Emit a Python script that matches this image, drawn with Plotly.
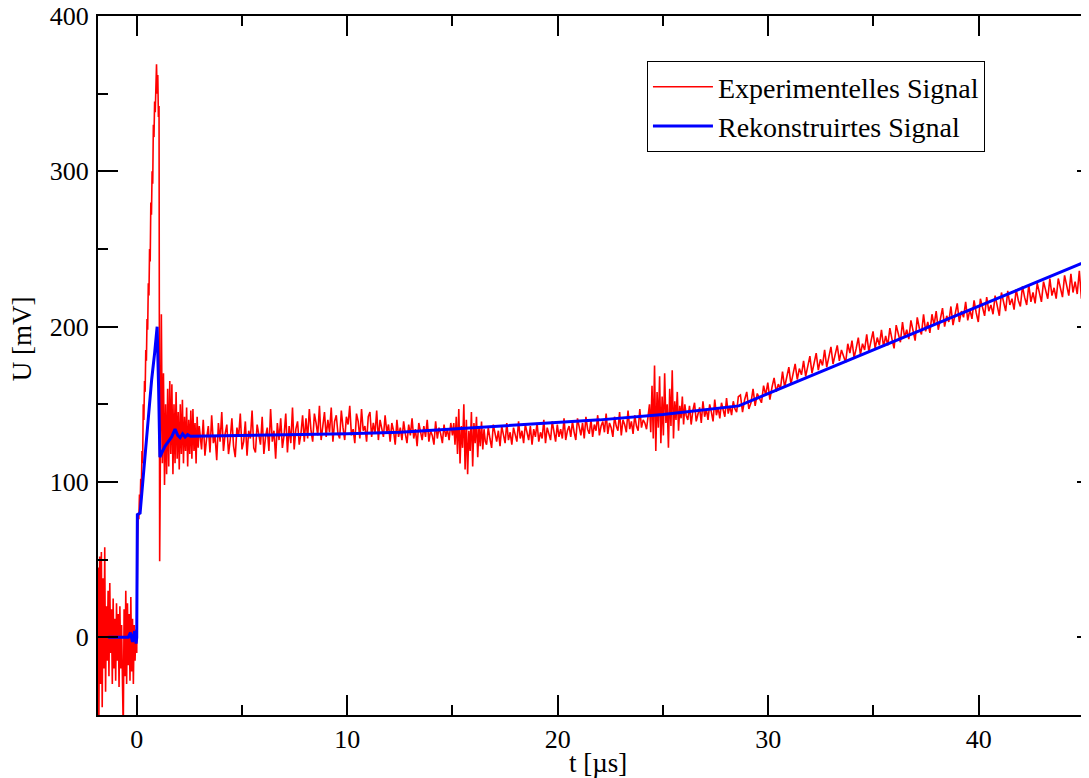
import plotly.graph_objects as go

# ---------------- experimental signal (segments: start time [µs], sample step [µs], values [mV]) ----------
pre_t0, pre_dt = -1.84, 0.04
pre_u = [45, -60, 52, -30, 55, -45, 38, -20, 58, -35, 20, -15, 30, -25, 35, -10, 18, -30, 25, -20,
         12, -28, 22, -15, 15, -32, 20, -20, 8, -40, -60, 18, -25, 30, -30, 22, -18, 15, -28, 26,
         -22, 12, -30, 8, -15, 5, -10]

rise_t0, rise_dt = 0.04, 0.03
rise_u = [62, 80, 76, 92, 84, 102, 96, 120, 112, 150, 140, 165, 158, 185, 178, 205, 198, 228, 220, 250,
          242, 280, 272, 300, 292, 330, 322, 345, 338, 360, 369, 350, 362, 335, 342, 49]

ring_t0, ring_dt = 1.12, 0.05
ring_u = [130, 208, 112, 170, 98, 150, 105, 160, 110, 165, 118, 163, 105, 150, 112, 158, 115, 145, 108, 150,
          118, 153, 112, 142, 120, 148, 110, 140, 118, 146, 115, 147, 120, 138, 112, 142, 122, 136]

flat1_t0, flat1_dt = 3.0, 0.08
flat1_u = [132, 121, 140, 117, 128, 136, 119, 143, 125, 130,
           114, 138, 126, 145, 120, 131, 137, 118, 127, 141,
           123, 116, 135, 129, 144, 121, 126, 139, 117, 133,
           128, 146, 122, 119, 137, 131, 124, 142, 118, 129,
           135, 120, 147, 126, 133, 115, 138, 127, 141, 122,
           130, 144, 119, 136, 125, 148, 121, 134, 139, 124,
           131, 143, 126]

flat2_t0, flat2_dt = 8.04, 0.08
flat2_u = [141, 128, 147, 133, 126, 144, 138, 130, 149, 127,
           136, 145, 129, 140, 132, 148, 126, 139, 143, 131,
           128, 146, 135, 127, 142, 137, 149, 130, 134, 125,
           144, 139, 128, 147, 133, 136, 126, 142, 145, 129,
           138, 131, 146, 127, 140, 135, 129, 143, 132, 137,
           126, 138, 133, 124, 140, 129, 135, 127, 139, 131,
           125, 137, 130, 141, 128, 134, 123, 138, 132, 127,
           136, 129, 140, 126, 133, 130, 124, 139, 128, 135,
           131, 125, 137, 129, 134, 127, 138, 130]

spk16_t0, spk16_dt = 15.06, 0.06
spk16_u = [138, 124, 142, 118, 147, 112, 136, 122, 150, 108, 140, 105, 133, 120, 145, 110, 138, 125, 142, 116,
           136, 123, 139, 121, 134, 126]

flat3_t0, flat3_dt = 16.62, 0.08
flat3_u = [124, 135, 128, 122, 137, 131, 126, 133, 123, 136,
           129, 125, 138, 127, 132, 124, 135, 130, 126, 139,
           128, 133, 125, 137, 131, 127, 136, 124, 134, 129,
           138, 126, 132, 128, 140, 125, 135, 130, 127, 139,
           131, 126, 137, 129, 134, 128, 141, 127, 133, 136,
           129, 139, 132, 127, 141, 135, 130, 138, 128, 142,
           134, 131, 140, 129, 137, 133, 143, 130, 136, 139,
           132, 144, 131, 138, 135, 129, 142, 136, 133, 145,
           130, 140, 137, 132, 146, 134, 139, 131, 143, 136,
           133, 147, 135, 140, 138, 134, 145]

spk25_t0, spk25_dt = 24.36, 0.06
spk25_u = [150, 132, 162, 128, 175, 120, 158, 135, 168, 125,
           155, 130, 170, 138, 150, 122, 160, 136, 172, 128,
           152, 140, 158, 133, 149, 141, 155, 137, 150, 143]

kink_t0, kink_dt = 26.18, 0.08
kink_u = [140, 149, 137, 146, 151, 139, 144, 148, 138, 152,
          142, 147, 140, 150, 145, 139, 153, 143, 148, 141,
          151, 146, 142, 154, 144, 149, 143, 152, 147, 145, 155]

rise2_t0, rise2_dt = 28.68, 0.1
rise2_u = [156, 145, 153, 158, 147, 151, 160, 149, 157, 154,
           151, 162, 156, 164, 153, 161, 167, 158, 163, 160,
           171, 161, 168, 174, 163, 170, 176, 166, 173, 169,
           178, 168, 175, 181, 170, 177, 183, 172, 179, 175,
           185, 174, 180, 187, 176, 182, 188, 178, 185, 181,
           177, 189, 183, 191, 180, 186, 193, 182, 189, 185,
           195, 184, 190, 197, 186, 193, 188, 198, 187, 194,
           188, 199, 192, 186, 201, 195, 190, 203, 193, 198,
           192, 204, 197, 191, 206, 199, 195, 208, 197, 203,
           196, 208, 201, 210, 198, 205, 212, 200, 207, 203,
           213, 201, 209, 215, 203, 210, 206, 216, 204, 211,
           205, 217, 209, 203, 218, 212, 207, 219, 210, 214,
           208, 220, 213, 207, 222, 215, 210, 223, 214, 218,
           211, 224, 217, 213, 226, 219, 214, 227, 216, 222,
           215, 228, 221, 216, 229, 223, 218, 231, 220, 225,
           218, 231, 224, 219, 233, 226, 220, 234, 222, 229,
           221, 236, 218, 231, 227]

# ---------------- reconstructed signal ----------
t_rec = [-1.36, -0.40, -0.30, -0.20, -0.10, -0.03, 0.0, 0.03, 0.16, 0.24,
         0.45, 0.71, 0.85, 0.97, 1.04, 1.10, 1.20, 1.34, 1.50, 1.66, 1.82, 1.95, 2.06, 2.18, 2.30, 2.42,
         2.55, 5.0, 8.0, 10.0, 12.5, 15.0, 18.0, 22.0, 25.0, 28.6, 46.0]
u_rec = [0, 0, 3, -3, 4, -4, 0, 79, 80, 93,
         125, 166, 183, 200, 160, 116, 119, 123, 126, 129, 134, 130, 128.5, 131, 129, 130.5,
         129.5, 130, 130.5, 131, 132, 134, 136.5, 140, 143.5, 149, 247]

x_ticks = [0, 10, 20, 30, 40]
y_ticks = [0, 100, 200, 300, 400]

segments = [(pre_t0, pre_dt, pre_u), (rise_t0, rise_dt, rise_u), (ring_t0, ring_dt, ring_u),
            (flat1_t0, flat1_dt, flat1_u), (flat2_t0, flat2_dt, flat2_u), (spk16_t0, spk16_dt, spk16_u),
            (flat3_t0, flat3_dt, flat3_u), (spk25_t0, spk25_dt, spk25_u), (kink_t0, kink_dt, kink_u),
            (rise2_t0, rise2_dt, rise2_u)]
t_exp, u_exp = [], []
for t0, dt, vals in segments:
    t_exp += [round(t0 + i * dt, 4) for i in range(len(vals))]
    u_exp += list(vals)

FONT = "Liberation Serif, Times New Roman, serif"

fig = go.Figure()
fig.add_trace(go.Scatter(x=t_exp, y=u_exp, mode="lines", name="Experimentelles Signal",
                         line=dict(color="#ff0000", width=1.6)))
fig.add_trace(go.Scatter(x=t_rec, y=u_rec, mode="lines", name="Rekonstruirtes Signal",
                         line=dict(color="#0000ff", width=3)))

axis_common = dict(showline=True, linecolor="black", linewidth=2, mirror="allticks",
                   ticks="inside", ticklen=20, tickwidth=1.5, tickcolor="black",
                   showgrid=False, zeroline=False, ticklabeloverflow="allow", automargin=False,
                   tickfont=dict(family=FONT, size=26, color="black"))

fig.update_xaxes(range=[-1.84, 45.62], tickvals=x_ticks,
                 minor=dict(dtick=5, ticks="inside", ticklen=10, tickwidth=1.5, tickcolor="black"),
                 **axis_common)
fig.update_yaxes(range=[-50, 400], tickvals=y_ticks,
                 minor=dict(dtick=50, ticks="inside", ticklen=10, tickwidth=1.5, tickcolor="black"),
                 ticklabelstandoff=2,
                 **axis_common)

fig.add_annotation(text="U [mV]", xref="paper", yref="paper", x=-0.0761, y=0.539,
                   textangle=-90, showarrow=False, xanchor="center", yanchor="middle",
                   font=dict(family=FONT, size=27, color="black"))
fig.add_annotation(text="t [µs]", xref="paper", yref="paper", x=0.5, y=-0.068,
                   showarrow=False, xanchor="center", yanchor="middle",
                   font=dict(family=FONT, size=27, color="black"))

fig.update_layout(
    width=1089, height=770,
    margin=dict(l=90, r=0, t=8, b=63, autoexpand=False),
    paper_bgcolor="white", plot_bgcolor="white",
    font=dict(family=FONT, color="black"),
    showlegend=True,
    legend=dict(x=0.5495, y=0.9356, xanchor="left", yanchor="top",
                bgcolor="white", bordercolor="black", borderwidth=1,
                font=dict(family=FONT, size=28, color="black"),
                tracegroupgap=0, itemwidth=60),
)

fig.write_html("out.html")
